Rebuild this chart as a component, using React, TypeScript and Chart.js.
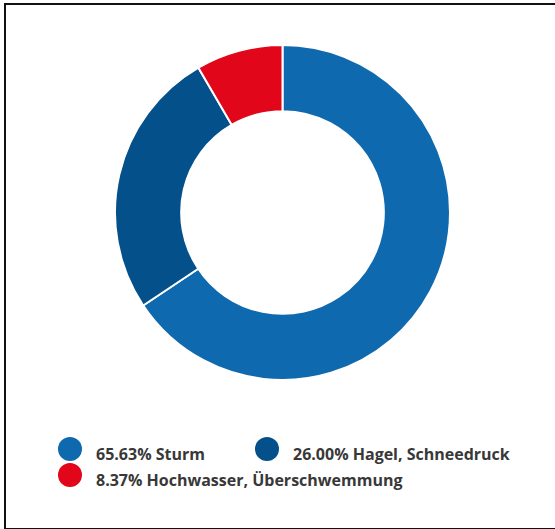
import React, { useEffect, useRef } from "react";
import { Chart, registerables } from "chart.js";

Chart.register(...registerables);

const categories = ["Sturm", "Hagel, Schneedruck", "Hochwasser, Überschwemmung"];
const values = [65.63, 26.0, 8.37];
const colors = ["#0f69ae", "#03508a", "#e2061b"];

export default function App() {
  const canvasRef = useRef<HTMLCanvasElement | null>(null);

  useEffect(() => {
    const canvas = canvasRef.current;
    if (!canvas) return;
    const chart = new Chart(canvas, {
      type: "doughnut",
      data: {
        labels: categories,
        datasets: [
          {
            data: values,
            backgroundColor: colors,
            borderColor: "#ffffff",
            borderWidth: 2,
            hoverOffset: 0,
          },
        ],
      },
      options: {
        animation: false,
        responsive: true,
        maintainAspectRatio: false,
        cutout: "60.5%",
        layout: { padding: 0 },
        plugins: {
          legend: { display: false },
          tooltip: { enabled: false },
        },
      },
    });
    return () => chart.destroy();
  }, []);

  const font = "'Open Sans', 'Noto Sans', sans-serif";

  return (
    <div
      style={{
        position: "fixed",
        left: 0,
        top: 0,
        width: 555,
        height: 529,
        overflow: "hidden",
        background: "#ffffff",
      }}
    >
      <div
        style={{
          position: "absolute",
          left: 4,
          top: 3,
          width: 600,
          height: 523,
          border: "2px solid #111111",
        }}
      />
      <div
        style={{
          position: "absolute",
          left: 114,
          top: 44,
          width: 337,
          height: 337,
        }}
      >
        <canvas ref={canvasRef} />
      </div>
      <div
        style={{
          position: "absolute",
          left: 58,
          top: 437,
          width: 480,
          display: "flex",
          flexWrap: "wrap",
          fontFamily: font,
          fontWeight: 700,
          fontSize: 16,
          color: "#383838",
        }}
      >
        {categories.map((c, i) => (
          <div
            key={c}
            style={{
              display: "flex",
              alignItems: "flex-start",
              height: 26,
              marginRight: i === 0 ? 50 : 0,
            }}
          >
            <span
              style={{
                display: "inline-block",
                width: 24,
                height: 24,
                borderRadius: "50%",
                background: colors[i],
                marginRight: 14,
                flex: "none",
              }}
            />
            <span style={{ marginTop: 6, lineHeight: "22px", whiteSpace: "nowrap" }}>
              {values[i].toFixed(2)}% {c}
            </span>
          </div>
        ))}
      </div>
    </div>
  );
}
